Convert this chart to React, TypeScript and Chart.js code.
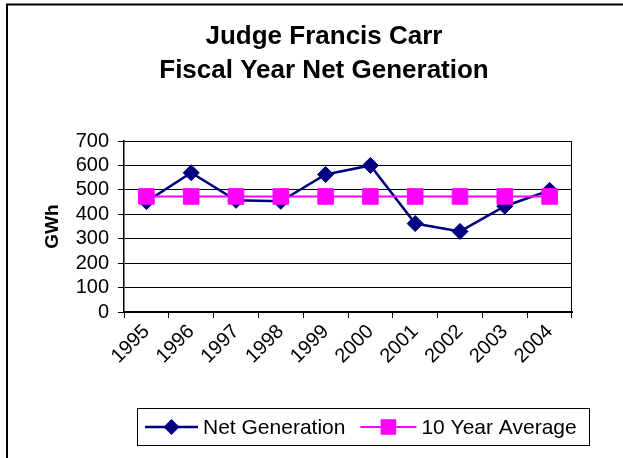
import React, { useEffect, useRef } from "react";
import { Chart, registerables } from "chart.js";

Chart.register(...registerables);

const titleLines = ["Judge Francis Carr", "Fiscal Year Net Generation"];
const years = ["1995", "1996", "1997", "1998", "1999", "2000", "2001", "2002", "2003", "2004"];
const netGeneration = [452, 570, 457, 453, 563, 600, 362, 330, 433, 498];
const tenYearAverage = [473, 473, 473, 473, 473, 473, 473, 473, 473, 473];
const yAxisTitle = "GWh";
const yMin = 0;
const yMax = 700;
const yStep = 100;

const FONT = "'Liberation Sans', Arial, Helvetica, sans-serif";

const decorPlugin = {
  id: "decor",
  beforeDraw(chart: any) {
    const { ctx, width, height } = chart;
    ctx.save();
    ctx.fillStyle = "#ffffff";
    ctx.fillRect(0, 0, width, height);
    ctx.strokeStyle = "#000000";
    ctx.lineWidth = 2;
    ctx.beginPath();
    ctx.moveTo(7, height);
    ctx.lineTo(7, 4.5);
    ctx.lineTo(width, 4.5);
    ctx.stroke();
    ctx.fillStyle = "#000000";
    ctx.font = `bold 26px ${FONT}`;
    ctx.textAlign = "center";
    ctx.textBaseline = "middle";
    titleLines.forEach((line, i) => {
      ctx.fillText(line, 324, 37 + i * 34);
    });
    ctx.restore();
  },
  beforeDatasetsDraw(chart: any) {
    const { ctx, chartArea } = chart;
    ctx.save();
    ctx.strokeStyle = "#000000";
    ctx.lineWidth = 1;
    ctx.beginPath();
    ctx.moveTo(chartArea.left, chartArea.top + 0.5);
    ctx.lineTo(chartArea.right - 0.5, chartArea.top + 0.5);
    ctx.lineTo(chartArea.right - 0.5, chartArea.bottom);
    ctx.stroke();
    ctx.restore();
  },
  afterDraw(chart: any) {
    const { ctx } = chart;
    const ds = chart.data.datasets;
    const boxX = 137;
    const boxY = 408;
    const boxW = 452;
    const boxH = 37;
    const cy = boxY + boxH / 2 + 0.5;
    ctx.save();
    ctx.fillStyle = "#ffffff";
    ctx.fillRect(boxX, boxY, boxW, boxH);
    ctx.strokeStyle = "#000000";
    ctx.lineWidth = 1;
    ctx.strokeRect(boxX + 0.5, boxY + 0.5, boxW, boxH);
    ctx.font = `21px ${FONT}`;
    ctx.textBaseline = "middle";
    ctx.textAlign = "left";
    let x = boxX + 8;
    const sampleLens = [53, 56];
    ds.forEach((d: any, i: number) => {
      const len = sampleLens[i];
      ctx.strokeStyle = d.borderColor;
      ctx.lineWidth = d.borderWidth;
      ctx.beginPath();
      ctx.moveTo(x, cy);
      ctx.lineTo(x + len, cy);
      ctx.stroke();
      const px = x + len / 2;
      const r = d.pointRadius;
      ctx.fillStyle = d.backgroundColor;
      ctx.beginPath();
      if (d.pointStyle === "rectRot") {
        ctx.moveTo(px - r, cy);
        ctx.lineTo(px, cy - r);
        ctx.lineTo(px + r, cy);
        ctx.lineTo(px, cy + r);
        ctx.closePath();
      } else {
        const s = Math.SQRT1_2 * r;
        ctx.rect(px - s, cy - s, 2 * s, 2 * s);
      }
      ctx.fill();
      x += len + 5;
      ctx.fillStyle = "#000000";
      ctx.fillText(d.label, x, cy + 1);
      x += ctx.measureText(d.label).width + 15;
    });
    ctx.restore();
  },
};

export default function App() {
  const canvasRef = useRef<HTMLCanvasElement | null>(null);

  useEffect(() => {
    if (!canvasRef.current) return;
    const chart = new Chart(canvasRef.current, {
      type: "line",
      data: {
        labels: years,
        datasets: [
          {
            label: "Net Generation",
            data: netGeneration,
            borderColor: "#000080",
            backgroundColor: "#000080",
            borderWidth: 2.5,
            pointStyle: "rectRot",
            pointRadius: 8,
            pointBorderWidth: 1,
            pointBackgroundColor: "#000080",
            pointBorderColor: "#000080",
            tension: 0,
            order: 1,
          } as any,
          {
            label: "10 Year Average",
            data: tenYearAverage,
            borderColor: "#FF00FF",
            backgroundColor: "#FF00FF",
            borderWidth: 2,
            pointStyle: "rect",
            pointRadius: 11,
            pointBorderWidth: 1,
            pointBackgroundColor: "#FF00FF",
            pointBorderColor: "#FF00FF",
            tension: 0,
            order: 0,
          } as any,
        ],
      },
      options: {
        responsive: false,
        animation: false,
        devicePixelRatio: 1,
        layout: { padding: { top: 141, left: 0, right: 51, bottom: 0 } },
        plugins: {
          legend: { display: false },
          title: { display: false },
          tooltip: { enabled: false },
        },
        scales: {
          x: {
            type: "category",
            offset: true,
            grid: {
              offset: true,
              drawOnChartArea: false,
              drawTicks: true,
              tickLength: 6,
              color: "#000000",
              lineWidth: 1,
            },
            border: { display: true, color: "#000000", width: 2 },
            ticks: {
              color: "#000000",
              font: { family: FONT, size: 20 },
              minRotation: 45,
              maxRotation: 45,
              autoSkip: false,
              padding: 2,
            },
            afterFit: (s: any) => {
              s.height = 146;
            },
          },
          y: {
            min: yMin,
            max: yMax,
            grid: {
              color: "#000000",
              lineWidth: 1,
              drawTicks: true,
              tickLength: 6,
            },
            border: { display: true, color: "#000000", width: 1.5 },
            ticks: {
              stepSize: yStep,
              autoSkip: false,
              color: "#000000",
              font: { family: FONT, size: 20, lineHeight: 1 },
              padding: 9,
            },
            title: {
              display: true,
              text: yAxisTitle,
              color: "#000000",
              font: { family: FONT, size: 19, weight: "bold" },
              padding: { top: 41, bottom: 0 },
            },
            afterFit: (s: any) => {
              s.width = 124;
            },
          },
        },
      } as any,
      plugins: [decorPlugin],
    });
    return () => chart.destroy();
  }, []);

  return (
    <div style={{ position: "absolute", left: 0, top: 0, width: 623, height: 458, overflow: "hidden" }}>
      <canvas ref={canvasRef} width={623} height={458} style={{ display: "block" }} />
    </div>
  );
}
